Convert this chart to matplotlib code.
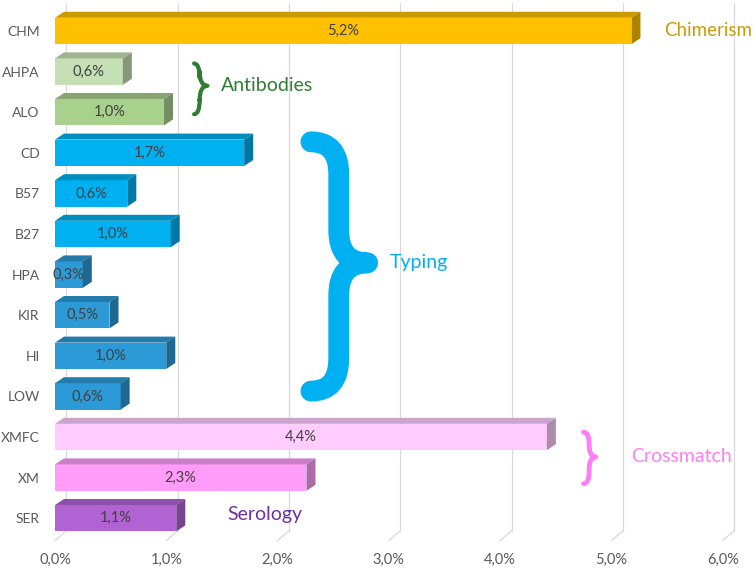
import matplotlib
matplotlib.use("Agg")
import matplotlib.pyplot as plt
from matplotlib.patches import Polygon, PathPatch
from matplotlib.path import Path
from matplotlib.colors import to_rgb

plt.rcParams['font.family'] = ['Lato', 'DejaVu Sans']

# Datos (de arriba hacia abajo)
categorias = ["CHM", "AHPA", "ALO", "CD", "B57", "B27", "HPA", "KIR", "HI", "LOW", "XMFC", "XM", "SER"]
valores = [5.18, 0.61, 0.98, 1.70, 0.65, 1.04, 0.25, 0.49, 1.00, 0.59, 4.42, 2.26, 1.09]
etiquetas = ["5,2%", "0,6%", "1,0%", "1,7%", "0,6%", "1,0%", "0,3%", "0,5%", "1,0%", "0,6%", "4,4%", "2,3%", "1,1%"]
colores = ["#FFC000", "#C5E0B4", "#A9D18E", "#00B0F0", "#00B0F0", "#00B0F0",
           "#2B9AD6", "#2B9AD6", "#2B9AD6", "#2B9AD6", "#FFCCFF", "#FF9CF9", "#B163D3"]
ticks = [0, 1, 2, 3, 4, 5, 6]
tick_labels = ["0,0%", "1,0%", "2,0%", "3,0%", "4,0%", "5,0%", "6,0%"]

# efecto 3D
DX, DY = 0.081, 0.148      # profundidad de la barra
GDX, GDY = 0.103, 0.24     # profundidad de la pared de fondo
ALTO = 0.65


def sombra(c, f):
    r, g, b = to_rgb(c)
    return (r * f, g * f, b * f)


def llave(ax, x0, xm, x1, ytop, ytip, ybot, r, lw, color):
    verts = [(x0, ytop), (xm, ytop), (xm, ytop + r),
             (xm, ytip - r), (xm, ytip), (x1, ytip),
             (xm, ytip), (xm, ytip + r),
             (xm, ybot - r), (xm, ybot), (x0, ybot)]
    codes = [Path.MOVETO, Path.CURVE3, Path.CURVE3,
             Path.LINETO, Path.CURVE3, Path.CURVE3,
             Path.CURVE3, Path.CURVE3,
             Path.LINETO, Path.CURVE3, Path.CURVE3]
    ax.add_patch(PathPatch(Path(verts, codes), fill=False, lw=lw, ec=color,
                           capstyle="round", joinstyle="round", zorder=4))


fig = plt.figure(figsize=(7.54, 5.69), dpi=100)
ax = fig.add_axes([0.0729, 0.050, 0.9151, 0.9455])
ax.set_xlim(0, 6.2)
ax.set_ylim(12.55, -0.7)
piso = 12.55

# cuadricula en la pared de fondo
for t in ticks:
    ax.plot([t + GDX, t + GDX], [-0.7, piso - GDY], color="#D9D9D9", lw=0.9, zorder=0)
    ax.plot([t + GDX, t], [piso - GDY, piso], color="#D9D9D9", lw=0.9, zorder=0,
            clip_on=False)

for i, (v, c, lab) in enumerate(zip(valores, colores, etiquetas)):
    y0, y1 = i - ALTO / 2, i + ALTO / 2
    ax.barh(i, v, height=ALTO, color=c, zorder=2)
    ax.add_patch(Polygon([(0, y0), (v, y0), (v + DX, y0 - DY), (DX, y0 - DY)],
                         closed=True, fc=sombra(c, 0.8), ec="none", zorder=2))
    ax.add_patch(Polygon([(v, y0), (v + DX, y0 - DY), (v + DX, y1 - DY), (v, y1)],
                         closed=True, fc=sombra(c, 0.68), ec="none", zorder=2))
    ax.text(v / 2, i, lab, ha="center", va="center", fontsize=10.5, color="#404040", zorder=3)

ax.set_yticks(range(len(categorias)))
ax.set_yticklabels(categorias, fontsize=10, color="#595959")
ax.set_xticks(ticks)
ax.set_xticklabels(tick_labels, fontsize=10.5, color="#595959")
ax.tick_params(axis="y", length=0, pad=11)
ax.tick_params(axis="x", length=0, pad=9)
for s in ax.spines.values():
    s.set_visible(False)

# grupos
ax.text(5.47, 0.0, "Chimerism", fontsize=13.5, color="#CC9A06", va="center")
llave(ax, 1.25, 1.30, 1.37, 0.80, 1.35, 2.05, 0.35, 3.0, "#2E7D32")
ax.text(1.49, 1.35, "Antibodies", fontsize=14, color="#2E7D32", va="center")
llave(ax, 2.30, 2.55, 2.81, 2.73, 5.71, 8.87, 0.8, 15, "#00B0F0")
ax.text(3.01, 5.71, "Typing", fontsize=14, color="#00B0F0", va="center")
llave(ax, 4.75, 4.80, 4.86, 9.88, 10.49, 11.15, 0.3, 3.5, "#FF7DF5")
ax.text(5.18, 10.49, "Crossmatch", fontsize=14, color="#FF7DF5", va="center")
ax.text(1.55, 11.9, "Serology", fontsize=14, color="#7030A0", va="center")

fig.savefig("out.png", dpi=100)
